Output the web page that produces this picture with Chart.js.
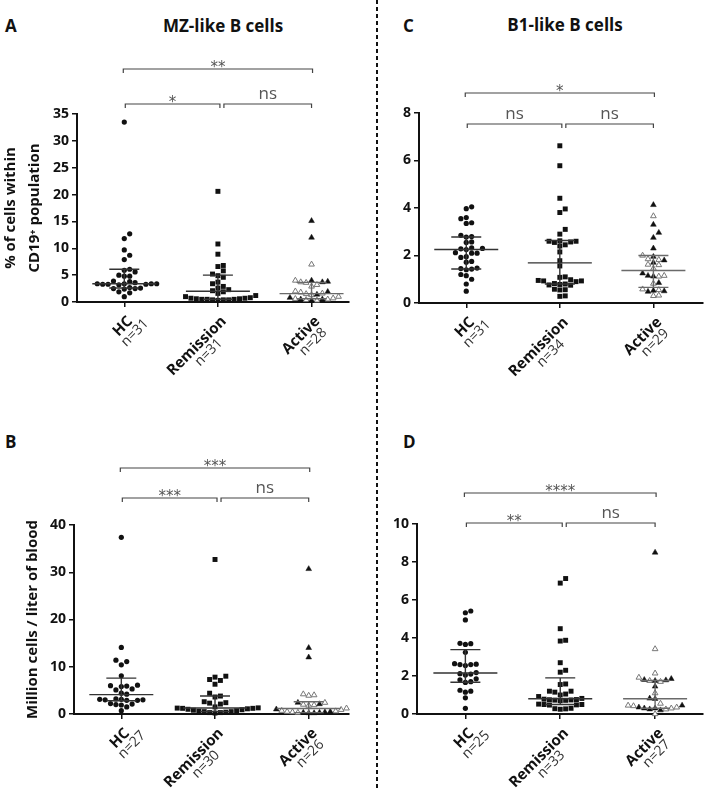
<!DOCTYPE html>
<html>
<head>
<meta charset="utf-8">
<script src="https://cdn.jsdelivr.net/npm/chart.js@4.4.0/dist/chart.umd.min.js"></script>
<style>
  body { margin: 0; background: #fff; }
  #fig { position: relative; width: 708px; height: 789px; font-family: "Open Sans", sans-serif; color: #111; overflow: hidden; }
  #fig canvas { position: absolute; }
  .letter { position: absolute; font-weight: 700; font-size: 17px; line-height: 20px; }
  .title { position: absolute; font-weight: 700; font-size: 17px; line-height: 20px; width: 300px; text-align: center; }
  #divider { position: absolute; left: 376px; top: 0; width: 2px; height: 789px;
    background: repeating-linear-gradient(to bottom, #111 0 4px, transparent 4px 7px); }
</style>
</head>
<body>
<div id="fig">
  <div class="letter" style="left:5px;top:16px">A</div>
  <div class="title" style="left:73px;top:16px">MZ-like B cells</div>
  <div class="letter" style="left:403px;top:16px">C</div>
  <div class="title" style="left:415px;top:15px">B1-like B cells</div>
  <div class="letter" style="left:5px;top:432px">B</div>
  <div class="letter" style="left:403px;top:432px">D</div>
  <div id="divider"></div>
  <canvas id="chartA" width="354" height="360" style="left:0;top:40px"></canvas>
  <canvas id="chartB" width="354" height="349" style="left:0;top:440px"></canvas>
  <canvas id="chartC" width="328" height="360" style="left:380px;top:40px"></canvas>
  <canvas id="chartD" width="328" height="349" style="left:380px;top:440px"></canvas>
</div>
<script>
const groups = ["HC", "Remission", "Active"];

// A - MZ-like B cells, % of CD19+ population
const mzPctHC = [33.5, 12.7, 11.8, 9.7, 8.7, 7.9, 6.1, 5.9, 5.6, 5.0, 4.8, 4.8, 3.9, 3.8, 3.6, 3.4, 3.4, 3.4, 3.4, 3.3, 3.3, 3.3, 3.2, 2.7, 2.6, 2.5, 2.5, 2.4, 1.9, 1.7, 1.0];
const mzPctRem = [20.6, 10.8, 8.9, 6.8, 6.6, 5.8, 5.2, 4.9, 4.6, 3.7, 3.4, 2.9, 2.6, 2.3, 2.1, 1.9, 1.6, 1.2, 1.0, 0.8, 0.7, 0.7, 0.6, 0.6, 0.5, 0.5, 0.5, 0.4, 0.4, 0.4, 0.3];
const mzPctActFilled = [15.1, 12.0, 4.0, 3.8, 3.7, 1.9, 1.4, 0.8, 0.5, 0.5, 0.3];
const mzPctActOpen = [7.0, 4.0, 3.7, 3.6, 3.2, 2.9, 2.0, 1.8, 1.6, 1.5, 1.3, 1.0, 0.7, 0.6, 0.5, 0.4, 0.3];
const mzPctMedian = [3.4, 2.0, 1.55];
const mzPctQ1 = [2.6, 0.5, 0.6];
const mzPctQ3 = [6.1, 5.0, 3.65];
const mzPctN = [31, 31, 28];
const mzPctSig = ["**", "*", "ns"];
const mzPctTicks = [0, 5, 10, 15, 20, 25, 30, 35];

// B - MZ-like B cells, million cells / liter of blood
const mzAbsHC = [37.4, 14.1, 11.4, 11.1, 10.4, 8.1, 6.1, 6.0, 5.9, 5.8, 5.3, 5.1, 4.4, 4.2, 3.2, 3.1, 3.1, 3.0, 3.0, 2.9, 2.9, 2.2, 2.1, 2.0, 1.9, 1.5, 0.7];
const mzAbsRem = [32.7, 8.0, 7.8, 7.3, 7.1, 6.3, 4.4, 3.8, 3.6, 2.6, 2.4, 2.3, 2.1, 1.5, 1.3, 1.25, 1.2, 1.2, 1.1, 1.0, 0.9, 0.8, 0.7, 0.6, 0.5, 0.5, 0.4, 0.3, 0.3, 0.2];
const mzAbsActFilled = [30.7, 14.0, 12.0, 2.4, 2.1, 1.0, 0.5, 0.4, 0.3, 0.3, 0.2, 0.2];
const mzAbsActOpen = [4.2, 4.0, 3.9, 2.4, 2.0, 1.9, 1.8, 1.2, 0.9, 0.7, 0.6, 0.5, 0.4, 0.3];
const mzAbsMedian = [4.1, 1.27, 1.15];
const mzAbsQ1 = [2.8, 0.5, 0.3];
const mzAbsQ3 = [7.6, 3.8, 2.6];
const mzAbsN = [27, 30, 26];
const mzAbsSig = ["***", "***", "ns"];
const mzAbsTicks = [0, 10, 20, 30, 40];

// C - B1-like B cells, % of CD19+ population
const b1PctHC = [4.05, 3.97, 3.6, 3.55, 3.38, 3.35, 2.85, 2.8, 2.78, 2.57, 2.55, 2.32, 2.3, 2.28, 2.25, 2.12, 2.1, 2.1, 1.95, 1.92, 1.75, 1.72, 1.47, 1.45, 1.43, 1.4, 1.2, 1.15, 1.0, 0.8, 0.5];
const b1PctRem = [6.62, 5.78, 4.41, 3.96, 3.81, 3.1, 2.9, 2.62, 2.6, 2.6, 2.57, 2.55, 2.45, 2.4, 2.15, 1.78, 1.56, 1.1, 1.08, 0.98, 0.95, 0.93, 0.93, 0.9, 0.82, 0.8, 0.78, 0.76, 0.75, 0.58, 0.56, 0.55, 0.3, 0.28];
const b1PctActFilled = [4.13, 3.3, 2.96, 2.75, 2.3, 1.95, 1.8, 1.7, 1.25, 1.15, 1.12, 0.85, 0.52, 0.5, 0.48];
const b1PctActOpen = [3.66, 2.0, 1.85, 1.82, 1.62, 1.6, 1.45, 1.15, 1.12, 0.82, 0.58, 0.55, 0.32, 0.3];
const b1PctMedian = [2.25, 1.69, 1.37];
const b1PctQ1 = [1.43, 0.8, 0.66];
const b1PctQ3 = [2.78, 2.63, 2.0];
const b1PctN = [31, 34, 29];
const b1PctSig = ["*", "ns", "ns"];
const b1PctTicks = [0, 2, 4, 6, 8];

// D - B1-like B cells, million cells / liter of blood
const b1AbsHC = [5.42, 5.33, 4.95, 3.72, 3.7, 3.66, 3.25, 2.65, 2.62, 2.6, 2.6, 2.55, 2.18, 2.12, 2.1, 2.05, 1.85, 1.8, 1.7, 1.66, 1.25, 1.2, 1.15, 0.85, 0.3];
const b1AbsRem = [7.13, 6.89, 4.49, 3.88, 3.84, 2.7, 2.3, 2.2, 1.58, 1.55, 1.2, 1.2, 1.15, 1.05, 1.0, 0.92, 0.82, 0.78, 0.76, 0.75, 0.74, 0.73, 0.72, 0.7, 0.52, 0.5, 0.5, 0.48, 0.47, 0.3, 0.28, 0.27, 0.25];
const b1AbsActFilled = [8.5, 1.85, 1.8, 1.78, 1.75, 1.45, 0.82, 0.8, 0.45, 0.35, 0.3, 0.3, 0.25, 0.2];
const b1AbsActOpen = [3.42, 2.14, 1.92, 1.75, 1.7, 1.1, 0.55, 0.45, 0.42, 0.35, 0.3, 0.25, 0.0];
const b1AbsMedian = [2.16, 0.8, 0.8];
const b1AbsQ1 = [1.67, 0.5, 0.3];
const b1AbsQ3 = [3.39, 1.9, 1.76];
const b1AbsN = [25, 33, 27];
const b1AbsSig = ["****", "**", "ns"];
const b1AbsTicks = [0, 2, 4, 6, 8, 10];

const panels = [
  { id: "chartA", hc: mzPctHC, rem: mzPctRem, actF: mzPctActFilled, actO: mzPctActOpen,
    median: mzPctMedian, q1: mzPctQ1, q3: mzPctQ3, n: mzPctN, sig: mzPctSig, ticks: mzPctTicks,
    yTitle: ["% of cells within", "CD19\u207A population"], titleX: [11, 35],
    padTop: 74, padRight: 1, yWidth: 77, xHeight: 98, xMin: -0.505, xMax: 2.4, brTop: -45, brLow: -10 },
  { id: "chartB", hc: mzAbsHC, rem: mzAbsRem, actF: mzAbsActFilled, actO: mzAbsActOpen,
    median: mzAbsMedian, q1: mzAbsQ1, q3: mzAbsQ3, n: mzAbsN, sig: mzAbsSig, ticks: mzAbsTicks,
    yTitle: ["Million cells / liter of blood"], titleX: [33],
    padTop: 85, padRight: 1, yWidth: 74, xHeight: 75, xMin: -0.505, xMax: 2.43, brTop: -57, brLow: -27 },
  { id: "chartC", hc: b1PctHC, rem: b1PctRem, actF: b1PctActFilled, actO: b1PctActOpen,
    median: b1PctMedian, q1: b1PctQ1, q3: b1PctQ3, n: b1PctN, sig: b1PctSig, ticks: b1PctTicks,
    yTitle: [], titleX: [],
    padTop: 73, padRight: 1, yWidth: 39, xHeight: 97, xMin: -0.505, xMax: 2.53, brTop: -20, brLow: 11 },
  { id: "chartD", hc: b1AbsHC, rem: b1AbsRem, actF: b1AbsActFilled, actO: b1AbsActOpen,
    median: b1AbsMedian, q1: b1AbsQ1, q3: b1AbsQ3, n: b1AbsN, sig: b1AbsSig, ticks: b1AbsTicks,
    yTitle: [], titleX: [],
    padTop: 84, padRight: 4, yWidth: 37, xHeight: 75, xMin: -0.51, xMax: 2.505, brTop: -31, brLow: -1 }
];

// beeswarm spread in pixel space, returns x values in scale units
function swarm(values, cat, xs, ys) {
  const order = values.map((v, i) => i).sort((a, b) => values[a] - values[b]);
  const placed = [];
  const out = new Array(values.length);
  const base = xs.getPixelForValue(cat);
  order.forEach(i => {
    const py = ys.getPixelForValue(values[i]);
    for (let k = 0; k < 80; k++) {
      const off = (k % 2 ? 1 : -1) * Math.ceil(k / 2) * 5.4;
      const px = base + off;
      if (placed.every(q => Math.hypot(q[0] - px, q[1] - py) >= 5.2)) {
        placed.push([px, py]);
        out[i] = xs.getValueForPixel(px);
        break;
      }
    }
  });
  return out;
}

function drawBracket(ctx, x1, x2, y, label) {
  ctx.strokeStyle = "#444";
  ctx.lineWidth = 1.2;
  ctx.beginPath();
  ctx.moveTo(x1, y + 4); ctx.lineTo(x1, y); ctx.lineTo(x2, y); ctx.lineTo(x2, y + 4);
  ctx.stroke();
  ctx.fillStyle = "#555";
  ctx.textAlign = "center";
  ctx.textBaseline = "alphabetic";
  if (label === "ns") {
    ctx.font = '17px "Open Sans"';
    ctx.fillText(label, (x1 + x2) / 2, y - 5);
  } else {
    ctx.font = '15px "DejaVu Sans"';
    ctx.fillText(label, (x1 + x2) / 2, y + 3);
  }
}

function decor(p) {
  return {
    id: "decor",
    afterDatasetsDraw(chart) {
      const { ctx, scales: { x, y } } = chart;
      ctx.save();
      p.median.forEach((m, i) => {
        const cx = x.getPixelForValue(i);
        const ym = y.getPixelForValue(m), y1 = y.getPixelForValue(p.q1[i]), y3 = y.getPixelForValue(p.q3[i]);
        ctx.strokeStyle = i === 2 ? "#6a6a6a" : "#333";
        ctx.lineWidth = 1.4;
        ctx.beginPath();
        ctx.moveTo(cx - 32, ym); ctx.lineTo(cx + 32, ym);
        ctx.moveTo(cx - 15, y1); ctx.lineTo(cx + 15, y1);
        ctx.moveTo(cx - 15, y3); ctx.lineTo(cx + 15, y3);
        ctx.moveTo(cx, y1); ctx.lineTo(cx, y3);
        ctx.stroke();
      });
      ctx.restore();
    },
    afterDraw(chart) {
      const { ctx, chartArea, scales: { x } } = chart;
      ctx.save();
      // significance brackets
      const c0 = x.getPixelForValue(0), c1 = x.getPixelForValue(1), c2 = x.getPixelForValue(2);
      drawBracket(ctx, c0 - 1, c2 + 1, chartArea.top + p.brTop, p.sig[0]);
      drawBracket(ctx, c0 + 1, c1 + 2, chartArea.top + p.brLow, p.sig[1]);
      drawBracket(ctx, c1 + 6, c2, chartArea.top + p.brLow, p.sig[2]);
      // rotated category labels
      groups.forEach((g, i) => {
        ctx.save();
        ctx.translate(x.getPixelForValue(i) + 6, chartArea.bottom + 17);
        ctx.rotate(-Math.PI / 4);
        ctx.font = 'bold 15px "Open Sans"';
        ctx.fillStyle = "#111";
        ctx.textAlign = "right";
        ctx.textBaseline = "middle";
        ctx.fillText(g, 0, 0);
        const w1 = ctx.measureText(g).width;
        ctx.font = '14px "Open Sans"';
        ctx.fillStyle = "#333";
        ctx.textAlign = "center";
        ctx.fillText("n=" + p.n[i], -w1 / 2 + 4, 13);
        ctx.restore();
      });
      // y axis title
      const mid = (chartArea.top + chartArea.bottom) / 2;
      p.yTitle.forEach((t, i) => {
        ctx.save();
        ctx.translate(p.titleX[i], mid);
        ctx.rotate(-Math.PI / 2);
        ctx.font = 'bold 15px "Open Sans"';
        ctx.fillStyle = "#111";
        ctx.textAlign = "center";
        ctx.textBaseline = "middle";
        ctx.fillText(t, 0, 0);
        ctx.restore();
      });
      ctx.restore();
    }
  };
}

panels.forEach(p => {
  const chart = new Chart(document.getElementById(p.id), {
    type: "scatter",
    data: {
      datasets: [
        { data: p.hc.map(v => ({ x: 0, y: v })), pointStyle: "circle", pointRadius: 2.6,
          backgroundColor: "#111", borderColor: "#111", borderWidth: 0, clip: false },
        { data: p.rem.map(v => ({ x: 1, y: v })), pointStyle: "rect", pointRadius: 3.5,
          backgroundColor: "#111", borderColor: "#111", borderWidth: 0, clip: false },
        { data: p.actF.map(v => ({ x: 2, y: v })), pointStyle: "triangle", pointRadius: 3.3,
          backgroundColor: "#111", borderColor: "#111", borderWidth: 0.5, clip: false },
        { data: p.actO.map(v => ({ x: 2, y: v })), pointStyle: "triangle", pointRadius: 3.3,
          backgroundColor: "#fff", borderColor: "#777", borderWidth: 1, clip: false }
      ]
    },
    options: {
      responsive: false,
      animation: false,
      layout: { padding: { top: p.padTop, right: p.padRight, left: 0, bottom: 0 } },
      plugins: { legend: { display: false }, tooltip: { enabled: false } },
      scales: {
        x: {
          type: "linear", min: p.xMin, max: p.xMax,
          afterBuildTicks: s => { s.ticks = [0, 1, 2].map(v => ({ value: v })); },
          afterFit: s => { s.height = p.xHeight; },
          ticks: { display: false },
          grid: { drawOnChartArea: false, drawTicks: true, tickLength: 5, color: "#111", lineWidth: 1.5 },
          border: { color: "#111", width: 2 }
        },
        y: {
          min: 0, max: p.ticks[p.ticks.length - 1],
          afterBuildTicks: s => { s.ticks = p.ticks.map(v => ({ value: v })); },
          afterFit: s => { s.width = p.yWidth; },
          ticks: { color: "#111", padding: 3, font: { family: "Open Sans", size: 14, weight: "bold" } },
          grid: { drawOnChartArea: false, drawTicks: true, tickLength: 5, color: "#111", lineWidth: 1.5 },
          border: { color: "#111", width: 2 }
        }
      }
    },
    plugins: [decor(p)]
  });

  const xs = chart.scales.x, ys = chart.scales.y;
  const hcX = swarm(p.hc, 0, xs, ys);
  const remX = swarm(p.rem, 1, xs, ys);
  const actAll = p.actF.concat(p.actO);
  const actX = swarm(actAll, 2, xs, ys);
  chart.data.datasets[0].data = p.hc.map((v, i) => ({ x: hcX[i], y: v }));
  chart.data.datasets[1].data = p.rem.map((v, i) => ({ x: remX[i], y: v }));
  chart.data.datasets[2].data = p.actF.map((v, i) => ({ x: actX[i], y: v }));
  chart.data.datasets[3].data = p.actO.map((v, i) => ({ x: actX[p.actF.length + i], y: v }));
  chart.update("none");
});
</script>
</body>
</html>
